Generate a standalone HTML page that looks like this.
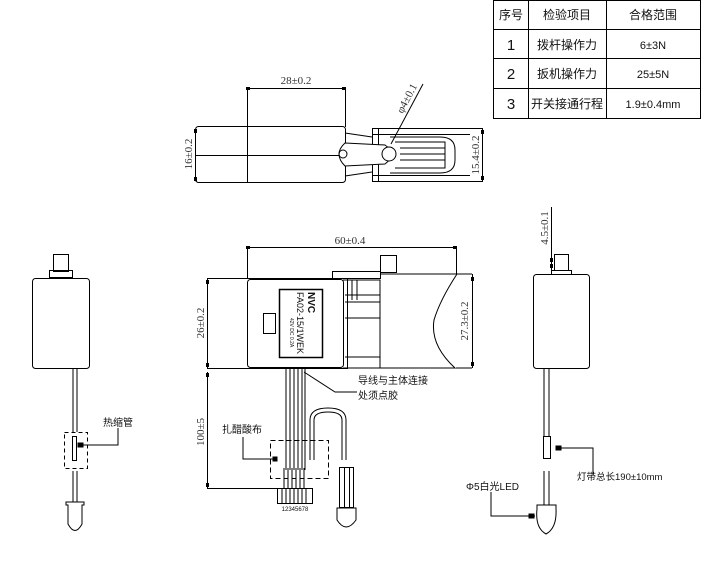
<!DOCTYPE html>
<html><head><meta charset="utf-8"><style>
html,body{margin:0;padding:0;background:#fff;width:701px;height:566px;overflow:hidden}
svg{display:block}
text{font-family:"Liberation Sans","Noto Sans CJK SC",sans-serif;fill:#111}
.d{font-family:"Liberation Serif","Noto Sans CJK SC",serif;font-size:11px;fill:#333}
</style></head><body>
<svg width="701" height="566" viewBox="0 0 701 566" fill="none" stroke="#000" stroke-width="1">
<!-- table -->
<g stroke="#000">
<rect x="493.5" y="0.5" width="207" height="118"/>
<line x1="493" y1="29.5" x2="701" y2="29.5"/>
<line x1="493" y1="58.5" x2="701" y2="58.5"/>
<line x1="493" y1="88.5" x2="701" y2="88.5"/>
<line x1="528.5" y1="0" x2="528.5" y2="118"/>
<line x1="606.5" y1="0" x2="606.5" y2="118"/>
</g>
<g stroke="none" font-size="12" text-anchor="middle">
<text x="511" y="19">序号</text><text x="567" y="19">检验项目</text><text x="653" y="19">合格范围</text>
<text x="511" y="50" font-size="15" font-family="Liberation Serif">1</text><text x="567" y="49">拨杆操作力</text><text x="653" y="49" font-size="11">6±3N</text>
<text x="511" y="79" font-size="15" font-family="Liberation Serif">2</text><text x="567" y="78">扳机操作力</text><text x="653" y="78" font-size="11">25±5N</text>
<text x="511" y="109" font-size="15" font-family="Liberation Serif">3</text><text x="567" y="108">开关接通行程</text><text x="653" y="108" font-size="11">1.9±0.4mm</text>
</g>

<!-- dimension ticks -->
<g fill="#000" stroke="none">
<rect x="246" y="87" width="4" height="3"/><rect x="342" y="87" width="4" height="3"/>
<rect x="194" y="129" width="3" height="4"/><rect x="194" y="177" width="3" height="4"/>
<rect x="481" y="130" width="3" height="4"/><rect x="481" y="176" width="3" height="4"/>
<rect x="246" y="246" width="4" height="3"/><rect x="453" y="246" width="4" height="3"/>
<rect x="206" y="280" width="3" height="4"/><rect x="206" y="363" width="3" height="4"/>
<rect x="471" y="277" width="3" height="4"/><rect x="471" y="362" width="3" height="4"/>
<rect x="206" y="373" width="3" height="4"/><rect x="206" y="483" width="3" height="4"/>
<rect x="550" y="258" width="3" height="4"/><rect x="550" y="264" width="3" height="4"/>
</g>

<!-- top view -->
<rect x="195.5" y="126.5" width="150" height="56" rx="3"/>
<line x1="247.5" y1="88" x2="247.5" y2="182"/>
<line x1="345.5" y1="88" x2="345.5" y2="127"/>
<line x1="247" y1="88.5" x2="345" y2="88.5"/>
<line x1="196" y1="155.5" x2="345" y2="155.5"/>
<text class="d" x="296" y="84" text-anchor="middle" stroke="none">28±0.2</text>
<text class="d" stroke="none" transform="translate(192,154) rotate(-90)" text-anchor="middle">16±0.2</text>
<path d="M345 133 L372 137 M345 176 L372 172"/>
<rect x="372.5" y="128.5" width="110" height="53"/>
<line x1="372" y1="134.5" x2="470" y2="134.5"/><line x1="372" y1="175.5" x2="470" y2="175.5"/>
<line x1="378.5" y1="128" x2="378.5" y2="182"/>
<path d="M390 137 H440 Q455 137 455 150 V160 Q455 173 440 173 H390"/>
<path d="M395 142 H445 V168 H395 M400 148 H445 M400 154 H445 M400 160 H445"/>
<path d="M345 143 L385 145 Q398 154 385 164 L345 166 Q333 154 345 143 Z" fill="#fff"/>
<circle cx="343" cy="154" r="4"/>
<circle cx="389" cy="154" r="7" fill="#fff"/>
<line x1="423" y1="84" x2="391" y2="144"/>
<text class="d" stroke="none" fill="#668" transform="translate(410,100) rotate(-62)" text-anchor="middle">φ4±0.1</text>
<line x1="482.5" y1="128" x2="482.5" y2="182"/>
<text class="d" stroke="none" transform="translate(479,155) rotate(-90)" text-anchor="middle">15.4±0.2</text>

<!-- front view -->
<line x1="247.5" y1="247" x2="247.5" y2="279"/>
<line x1="456.5" y1="247" x2="456.5" y2="275"/>
<line x1="247" y1="247.5" x2="456" y2="247.5"/>
<text class="d" x="350" y="244" text-anchor="middle" stroke="none">60±0.4</text>
<rect x="207.5" y="278.5" width="140" height="90"/>
<rect x="247.5" y="279.5" width="96" height="88" rx="3"/>
<rect x="279.5" y="289.5" width="43" height="68" stroke-width="1.5"/>
<rect x="263.5" y="313.5" width="12" height="20"/>
<text stroke="none" font-size="10" font-weight="bold" transform="translate(308,292) rotate(90)">NVC</text>
<text stroke="none" font-size="9" transform="translate(297,292) rotate(90)">FA02-15/1WEK</text>
<text stroke="none" font-size="5" transform="translate(290,318) rotate(90)">42V DC 0.2A</text>
<rect x="332.5" y="271.5" width="48" height="7"/>
<rect x="380.5" y="255.5" width="16" height="17"/>
<path d="M343 280 H380 V368 H343 M345 295 H380 M345 302 H380 M345 318 H380 M345 357 H380"/>
<path d="M352 280 V300 M357 280 V300"/>
<path d="M380 274 H457 Q440 300 434 320 Q430 345 455 368 H380"/>
<line x1="457" y1="274" x2="472" y2="274"/><line x1="456" y1="368" x2="472" y2="368"/>
<line x1="472.5" y1="274" x2="472.5" y2="368"/>
<text class="d" stroke="none" transform="translate(468,321) rotate(-90)" text-anchor="middle">27.3±0.2</text>
<line x1="207.5" y1="278" x2="207.5" y2="368"/>
<text class="d" stroke="none" transform="translate(204,323) rotate(-90)" text-anchor="middle">26±0.2</text>
<line x1="207.5" y1="372" x2="207.5" y2="488"/>
<line x1="207" y1="488.5" x2="278" y2="488.5"/>
<text class="d" stroke="none" transform="translate(204,432) rotate(-90)" text-anchor="middle">100±5</text>
<path d="M286 368 V470 M290 368 V470 M294 368 V470 M298 368 V470 M302 368 V470 M305 368 V470"/>
<path d="M310 460 V420 Q310 408 328 408 Q346 408 346 420 V460 M314 460 V420 Q314 412 328 412 Q342 412 342 420 V460"/>
<rect x="339.5" y="467.5" width="14" height="40"/>
<line x1="344.5" y1="467" x2="344.5" y2="508"/><line x1="349.5" y1="467" x2="349.5" y2="508"/>
<path d="M337 508 H356 V520 Q346 534 337 520 Z"/>
<rect x="270.5" y="440.5" width="58" height="38" stroke-dasharray="5,3"/>
<path d="M284 468 V488 M288 468 V488 M292 468 V488 M296 468 V488 M300 468 V488 M304 468 V488"/>
<rect x="277.5" y="488.5" width="35" height="15"/>
<path d="M282 488 V503 M286 488 V503 M290 488 V503 M294 488 V503 M298 488 V503 M302 488 V503 M306 488 V503"/>
<text stroke="none" font-size="6" x="295" y="511" text-anchor="middle" fill="#555">12345678</text>
<polyline points="243,437 243,459 276,459"/><rect x="273" y="457" width="4" height="4" fill="#000"/>
<text stroke="none" font-size="10" x="222" y="433">扎醋酸布</text>
<polyline points="304,372 335,392 357,392"/>
<text stroke="none" font-size="10" x="358" y="384">导线与主体连接</text>
<text stroke="none" font-size="10" x="358" y="399">处须点胶</text>

<!-- left view -->
<rect x="53.5" y="254.5" width="15" height="17"/>
<rect x="49.5" y="270.5" width="23" height="7"/>
<rect x="32.5" y="278.5" width="57" height="90" rx="3"/>
<path d="M73 369 V432 M77 369 V432"/>
<rect x="64.5" y="432.5" width="23" height="36" stroke-dasharray="4,3"/>
<rect x="72.5" y="436.5" width="4" height="24"/>
<polyline points="79,445 118,445 118,428"/><rect x="78" y="443" width="5" height="4" fill="#000"/>
<text stroke="none" font-size="10" x="103" y="426">热缩管</text>
<path d="M73 471 V502 M77 471 V502"/>
<path d="M66 502 H84 V505 H82 V524 Q75 537 68 524 V505 H66 Z"/>

<!-- right view -->
<rect x="554.5" y="254.5" width="14" height="16"/>
<rect x="551.5" y="270.5" width="20" height="4"/>
<rect x="533.5" y="274.5" width="56" height="94" rx="3"/>
<line x1="551.5" y1="207" x2="551.5" y2="271"/>
<text class="d" stroke="none" transform="translate(548,228) rotate(-90)" text-anchor="middle">4.5±0.1</text>
<path d="M544 368 V437 M549 368 V437"/>
<rect x="543.5" y="436.5" width="7" height="22"/>
<polyline points="556,448 593,448 593,475"/><rect x="556" y="446" width="5" height="4" fill="#000"/>
<text stroke="none" font-size="9.5" x="577" y="480" fill="#333">灯带总长190±10mm</text>
<path d="M544 471 V505 M549 471 V505"/>
<path d="M537 505 H556 V509 Q557 528 546 534 Q535 528 537 509 Z"/>
<polyline points="491,492 491,516 535,516"/><rect x="529" y="514" width="5" height="4" fill="#000"/>
<text stroke="none" font-size="10" x="466" y="490">Φ5白光LED</text>
</svg>
</body></html>
